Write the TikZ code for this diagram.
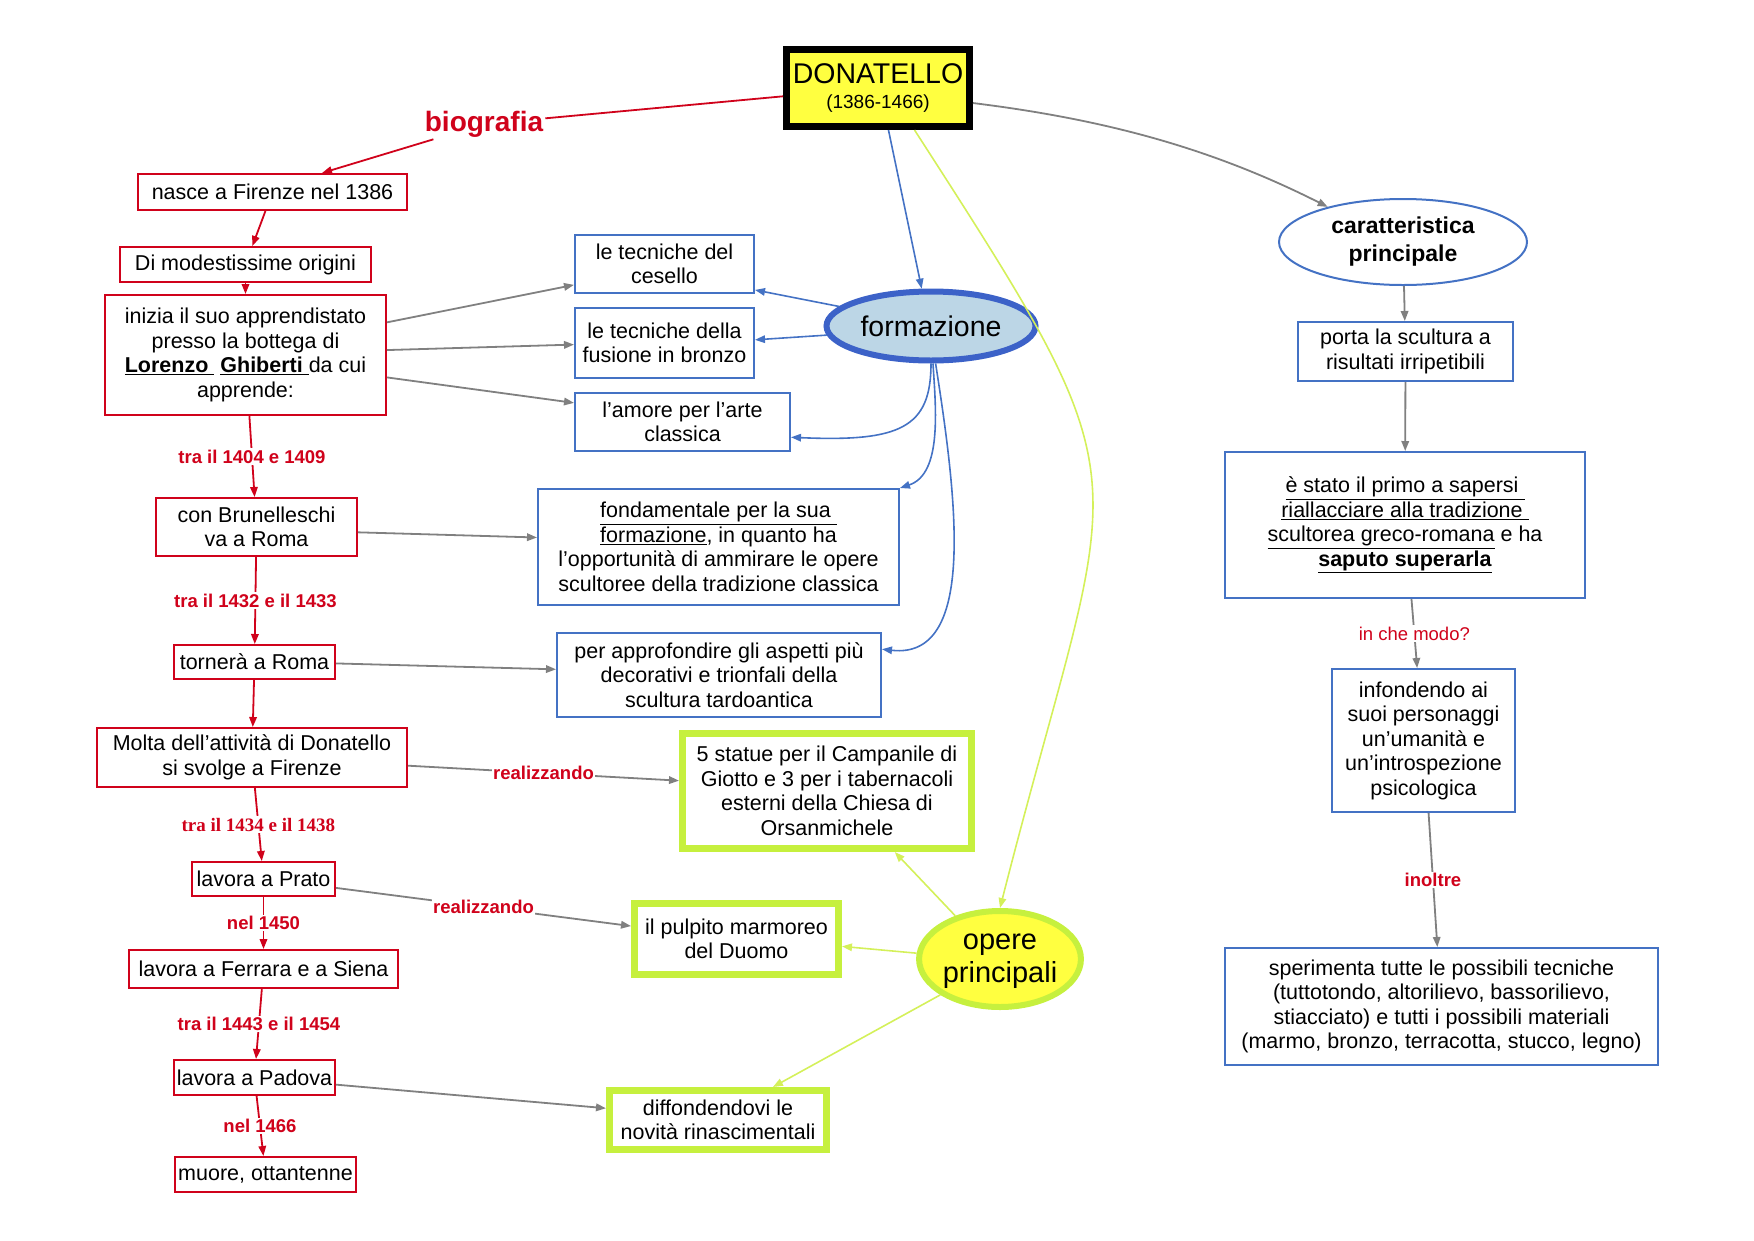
\documentclass[tikz,border=0pt]{standalone}
\usepackage{fontspec}
\setmainfont{Liberation Sans}
\newfontfamily\tnr{Liberation Serif}
\usetikzlibrary{arrows.meta,shapes.geometric,calc}
\definecolor{cred}{RGB}{208,2,27}
\definecolor{cblue}{RGB}{68,114,196}
\definecolor{cdblue}{RGB}{60,98,200}
\definecolor{cgray}{RGB}{128,128,128}
\definecolor{clime}{RGB}{198,240,62}
\definecolor{climeln}{RGB}{212,240,90}
\definecolor{cyel}{RGB}{255,255,64}
\definecolor{cfill}{RGB}{188,214,230}
\begin{document}
\begin{tikzpicture}[x=1pt,y=-1pt,
  txt/.style={font=\fontsize{21.5}{24.5}\selectfont, align=center, inner sep=0pt},
  redbox/.style={txt, rectangle, draw=cred, line width=2pt},
  bluebox/.style={txt, rectangle, draw=cblue, line width=2pt},
  limebox/.style={txt, rectangle, draw=clime, line width=7pt},
  myarr/.style={-{Triangle[length=10pt,width=7.5pt]}},
  redln/.style={myarr, color=cred, line width=1.8pt},
  grayln/.style={myarr, color=cgray, line width=1.8pt},
  blueln/.style={myarr, color=cblue, line width=1.6pt},
  limeln/.style={myarr, color=climeln, line width=1.6pt},
  lbl/.style={font=\bfseries\fontsize{18.5}{20}\selectfont, text=cred, fill=white, inner sep=1.5pt},
  lblr/.style={font=\fontsize{18.5}{20}\selectfont, text=cred, fill=white, inner sep=1.5pt}
]
\useasboundingbox (0,0) rectangle (1754,1240);

% central node
\node[draw=black, line width=7pt, fill=cyel, minimum width=183pt, minimum height=77pt, inner sep=0pt, align=center,
      font=\fontsize{28.5}{25}\selectfont]
  (don) at (878,88) {DONATELLO\\ {\fontsize{19}{22}\selectfont (1386-1466)}};

\node[font=\bfseries\fontsize{28}{30}\selectfont, text=cred, inner sep=2pt] (bio) at (484,124) {biografia};

% left red column
\node[redbox, minimum width=269pt, minimum height=36pt] (nasce) at (272.5,192) {nasce a Firenze nel 1386};
\node[redbox, minimum width=251pt, minimum height=35pt] (modest) at (245.5,264.5) {Di modestissime origini};
\node[redbox, minimum width=281pt, minimum height=120pt] (inizia) at (245.5,355) {inizia il suo apprendistato\\ presso la bottega di\\ \underline{\textbf{Lorenzo\ }}\ \underline{\textbf{Ghiberti\ }}da cui\\ apprende:};
\node[redbox, minimum width=201pt, minimum height=58pt] (brun) at (256.5,527) {con Brunelleschi\\ va a Roma};
\node[redbox, minimum width=161pt, minimum height=34pt] (tornera) at (254.5,662) {tornerà a Roma};
\node[redbox, minimum width=310pt, minimum height=59pt] (molta) at (252,757.5) {Molta dell’attività di Donatello\\ si svolge a Firenze};
\node[redbox, minimum width=143pt, minimum height=34pt] (prato) at (263.5,879) {lavora a Prato};
\node[redbox, minimum width=269pt, minimum height=38pt] (ferrara) at (263.5,969) {lavora a Ferrara e a Siena};
\node[redbox, minimum width=161pt, minimum height=35pt] (padova) at (254.5,1077.5) {lavora a Padova};
\node[redbox, minimum width=181pt, minimum height=35pt] (muore) at (265.5,1174.5) {muore, ottantenne};

% formazione
\node[ellipse, draw=cdblue, line width=6pt, fill=cfill, minimum width=209pt, minimum height=69pt, inner sep=0pt, font=\fontsize{28.5}{30}\selectfont]
  (form) at (931,326) {formazione};
\node[bluebox, minimum width=179pt, minimum height=58pt] (cesello) at (664.5,264) {le tecniche del\\ cesello};
\node[bluebox, minimum width=179pt, minimum height=70pt] (fusione) at (664.5,343) {le tecniche della\\ fusione in bronzo};
\node[bluebox, minimum width=215pt, minimum height=58pt] (amore) at (682.5,422) {l’amore per l’arte\\ classica};
\node[bluebox, minimum width=361pt, minimum height=116pt] (fondam) at (718.5,547) {\underline{fondamentale per la sua\ }\\ \underline{formazione}, in quanto ha\\ l’opportunità di ammirare le opere\\ scultoree della tradizione classica};
\node[bluebox, minimum width=324pt, minimum height=84pt] (approf) at (719,675) {per approfondire gli aspetti più\\ decorativi e trionfali della\\ scultura tardoantica};

% opere
\node[ellipse, draw=clime, line width=6pt, fill=cyel, minimum width=161pt, minimum height=96pt, inner sep=0pt, font=\fontsize{29}{33}\selectfont]
  (opere) at (1000,959) {\raisebox{-6pt}{\begin{tabular}{@{}c@{}}opere\\ principali\end{tabular}}};
\node[limebox, minimum width=289pt, minimum height=115pt] (statue) at (827,791) {5 statue per il Campanile di\\ Giotto e 3 per i tabernacoli\\ esterni della Chiesa di\\ Orsanmichele};
\node[limebox, minimum width=204pt, minimum height=71pt] (pulpito) at (736.5,939) {il pulpito marmoreo\\ del Duomo};
\node[limebox, minimum width=217pt, minimum height=59pt] (diffond) at (718,1120) {diffondendovi le\\ novità rinascimentali};

% right column
\node[ellipse, draw=cblue, line width=2pt, minimum width=248pt, minimum height=86pt, inner sep=0pt, align=center, font=\bfseries\fontsize{23}{28}\selectfont]
  (carat) at (1403,242) {caratteristica\\ principale};
\node[bluebox, minimum width=215pt, minimum height=59pt] (porta) at (1405.5,351.5) {porta la scultura a\\ risultati irripetibili};
\node[bluebox, minimum width=360pt, minimum height=146pt] (estato) at (1405,525) {\underline{è stato il primo a sapersi\ }\\ \underline{riallacciare alla tradizione\ }\\ \underline{scultorea greco-romana} e ha\\ \underline{\textbf{saputo\ }}\underline{\textbf{superarla}}};
\node[bluebox, minimum width=183pt, minimum height=143pt] (infond) at (1423.5,740.5) {infondendo ai\\ suoi personaggi\\ un’umanità e\\ un’introspezione\\ psicologica};
\node[bluebox, minimum width=433pt, minimum height=117pt] (speriment) at (1441.5,1006.5) {sperimenta tutte le possibili tecniche\\ (tuttotondo, altorilievo, bassorilievo,\\ stiacciato) e tutti i possibili materiali\\ (marmo, bronzo, terracotta, stucco, legno)};

% ---- connectors ----
% biografia chain
\draw[color=cred, line width=1.8pt] (don.-175) -- (bio);
\draw[redln] (bio) -- (nasce.21);
\draw[redln] (nasce) -- (modest);
\draw[redln] (modest) -- (inizia);
\draw[redln] (inizia) -- node[lbl]{tra il 1404 e 1409} (brun);
\draw[redln] (brun) -- node[lbl]{tra il 1432 e il 1433} (tornera);
\draw[redln] (tornera) -- (molta);
\draw[redln] (molta) -- node[lbl, font=\tnr\bfseries\fontsize{19}{20}\selectfont]{tra il 1434 e il 1438} (prato);
\draw[redln] (prato) -- node[lbl]{nel 1450} (ferrara);
\draw[redln] (ferrara) -- node[lbl]{tra il 1443 e il 1454} (padova);
\draw[redln] (padova) -- node[lbl]{nel 1466} (muore);

% gray arrows from left column
\draw[grayln] (inizia.13) -- (cesello.193);
\draw[grayln] (inizia.2) -- (fusione.181);
\draw[grayln] (inizia.-9) -- (amore.170);
\draw[grayln] (brun.-3) -- (fondam.177);
\draw[grayln] (tornera.-1) -- (approf.178);
\draw[grayln] (molta.-3.5) -- node[lbl]{realizzando} (statue.176);
\draw[grayln] (prato.-7) -- node[lbl]{realizzando} (pulpito.173);
\draw[grayln] (padova.-5) -- (diffond.174);

% blue (formazione)
\draw[blueln] (don.-76) -- (form.104);
\draw[blueln] (form.168) -- (cesello.-16);
\draw[blueln] (form.185) -- (fusione.2);
\draw[blueln] (form.-90) .. controls (931,428) and (900,442) .. (amore.-8);
\draw[blueln] (form.-87) .. controls (936,410) and (942,474) .. (fondam.north east);
\draw[blueln] (form.-83) .. controls (957,500) and (977,660) .. (approf.9);

% lime (opere)
\draw[limeln] (don.-49) .. controls (1157,506) and (1117,449) .. (opere.north);
\draw[limeln] (opere.136) -- (statue.-42);
\draw[limeln] (opere.176) -- (pulpito.-4);
\draw[limeln] (opere.211) -- (diffond.31);

% right column
\draw[grayln] (don.-9) .. controls (1110,120) and (1215,150) .. (carat.155);
\draw[grayln] (carat) -- (porta);
\draw[grayln] (porta) -- (estato);
\draw[grayln] (estato.-85) -- node[lblr]{in che modo?} (infond.95);
\draw[grayln] (infond.-86) -- node[lbl]{inoltre} (speriment.94);
\end{tikzpicture}
\end{document}
